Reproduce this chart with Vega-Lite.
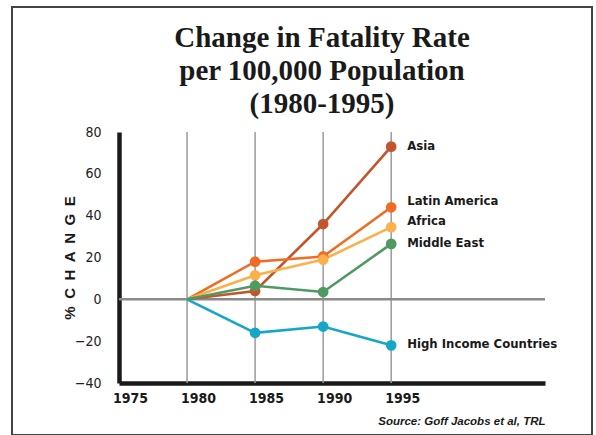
{
  "$schema": "https://vega.github.io/schema/vega-lite/v6.json",
  "autosize": "none",
  "width": 580,
  "height": 428,
  "padding": {"left": 12, "top": 7, "right": 4, "bottom": 0},
  "background": "white",
  "config": {
    "view": {"stroke": "#444", "strokeWidth": 2},
    "font": "DejaVu Sans Condensed"
  },
  "title": {
    "text": ["Change in Fatality Rate", "per 100,000 Population", "(1980-1995)"],
    "anchor": "middle",
    "offset": -112,
    "dx": 20,
    "font": "Liberation Serif",
    "fontSize": 29,
    "fontWeight": "bold",
    "lineHeight": 33,
    "color": "#1a1a1a"
  },
  "data": {
    "values": [
      {"series": "Asia", "year": 1980, "value": 0},
      {"series": "Asia", "year": 1985, "value": 4},
      {"series": "Asia", "year": 1990, "value": 36},
      {"series": "Asia", "year": 1995, "value": 73},
      {"series": "Latin America", "year": 1980, "value": 0},
      {"series": "Latin America", "year": 1985, "value": 18},
      {"series": "Latin America", "year": 1990, "value": 20.5},
      {"series": "Latin America", "year": 1995, "value": 44},
      {"series": "Africa", "year": 1980, "value": 0},
      {"series": "Africa", "year": 1985, "value": 11.5},
      {"series": "Africa", "year": 1990, "value": 19},
      {"series": "Africa", "year": 1995, "value": 34.5},
      {"series": "Middle East", "year": 1980, "value": 0},
      {"series": "Middle East", "year": 1985, "value": 6.5},
      {"series": "Middle East", "year": 1990, "value": 3.5},
      {"series": "Middle East", "year": 1995, "value": 26.5},
      {"series": "High Income Countries", "year": 1980, "value": 0},
      {"series": "High Income Countries", "year": 1985, "value": -16},
      {"series": "High Income Countries", "year": 1990, "value": -13},
      {"series": "High Income Countries", "year": 1995, "value": -22}
    ]
  },
  "layer": [
    {
      "data": {"values": [{"year": 1980}, {"year": 1985}, {"year": 1990}, {"year": 1995}]},
      "mark": {"type": "rule", "color": "#9a9a9a", "strokeWidth": 1.5},
      "encoding": {
        "x": {"field": "year", "type": "quantitative"},
        "y": {"datum": 80},
        "y2": {"datum": -40}
      }
    },
    {
      "data": {"values": [{"start": 1975, "end": 2006.3, "level": 0}]},
      "mark": {"type": "rule", "color": "#8a8a8a", "strokeWidth": 2.5},
      "encoding": {
        "x": {"field": "start", "type": "quantitative"},
        "x2": {"field": "end"},
        "y": {"field": "level", "type": "quantitative"}
      }
    },
    {
      "mark": {"type": "line", "strokeWidth": 2.6},
      "encoding": {
        "x": {
          "field": "year", "type": "quantitative",
          "scale": {"domain": [1975, 2006.3], "range": [107, 533], "nice": false, "zero": false},
          "axis": {
            "values": [1975, 1980, 1985, 1990, 1995],
            "format": "d",
            "offset": -52,
            "grid": false,
            "ticks": false,
            "tickSize": 0,
            "domainColor": "#1a1a1a",
            "domainWidth": 4.5,
            "labelFlush": false,
            "labelOffset": 11,
            "labelPadding": 8,
            "labelFont": "DejaVu Sans Condensed",
            "labelFontSize": 14,
            "labelFontWeight": "bold",
            "labelColor": "#1a1a1a",
            "title": "Source: Goff Jacobs et al, TRL",
            "titleAnchor": "end",
            "titleFont": "Liberation Sans",
            "titleFontSize": 11.5,
            "titleFontStyle": "italic",
            "titleFontWeight": "bold",
            "titleColor": "#1a1a1a",
            "titlePadding": 10
          }
        },
        "y": {
          "field": "value", "type": "quantitative",
          "scale": {"domain": [-40, 80], "range": [376, 125], "nice": false, "zero": false},
          "axis": {
            "values": [-40, -20, 0, 20, 40, 60, 80],
            "offset": -107,
            "grid": false,
            "ticks": false,
            "tickSize": 0,
            "domainColor": "#1a1a1a",
            "domainWidth": 4.5,
            "labelFlush": false,
            "labelPadding": 18,
            "labelFont": "DejaVu Sans Condensed",
            "labelFontSize": 14,
            "labelColor": "#222",
            "title": "%\u2002C\u2002H\u2002A\u2002N\u2002G\u2002E",
            "titleFont": "Liberation Sans",
            "titleFontSize": 15,
            "titleFontWeight": "bold",
            "titleColor": "#1a1a1a",
            "titlePadding": -3
          }
        },
        "color": {
          "field": "series", "type": "nominal",
          "scale": {
            "domain": ["Asia", "Latin America", "Africa", "Middle East", "High Income Countries"],
            "range": ["#c2552d", "#f26b23", "#fbb04b", "#4f9a63", "#15a7c6"]
          },
          "legend": null
        }
      }
    },
    {
      "transform": [{"filter": "datum.year > 1980"}],
      "mark": {"type": "circle", "size": 115, "opacity": 1},
      "encoding": {
        "x": {"field": "year", "type": "quantitative"},
        "y": {"field": "value", "type": "quantitative"},
        "color": {"field": "series", "type": "nominal", "legend": null}
      }
    },
    {
      "transform": [{"filter": "datum.year == 1995 && (datum.series == 'Asia' || datum.series == 'Middle East' || datum.series == 'High Income Countries')"}],
      "mark": {"type": "text", "align": "left", "baseline": "middle", "dx": 16, "dy": -1, "font": "DejaVu Sans Condensed", "fontSize": 13, "fontWeight": "bold", "color": "#1a1a1a"},
      "encoding": {
        "x": {"field": "year", "type": "quantitative"},
        "y": {"field": "value", "type": "quantitative"},
        "text": {"field": "series"}
      }
    },
    {
      "transform": [{"filter": "datum.year == 1995 && (datum.series == 'Latin America' || datum.series == 'Africa')"}],
      "mark": {"type": "text", "align": "left", "baseline": "middle", "dx": 16, "dy": -6, "font": "DejaVu Sans Condensed", "fontSize": 13, "fontWeight": "bold", "color": "#1a1a1a"},
      "encoding": {
        "x": {"field": "year", "type": "quantitative"},
        "y": {"field": "value", "type": "quantitative"},
        "text": {"field": "series"}
      }
    }
  ]
}
